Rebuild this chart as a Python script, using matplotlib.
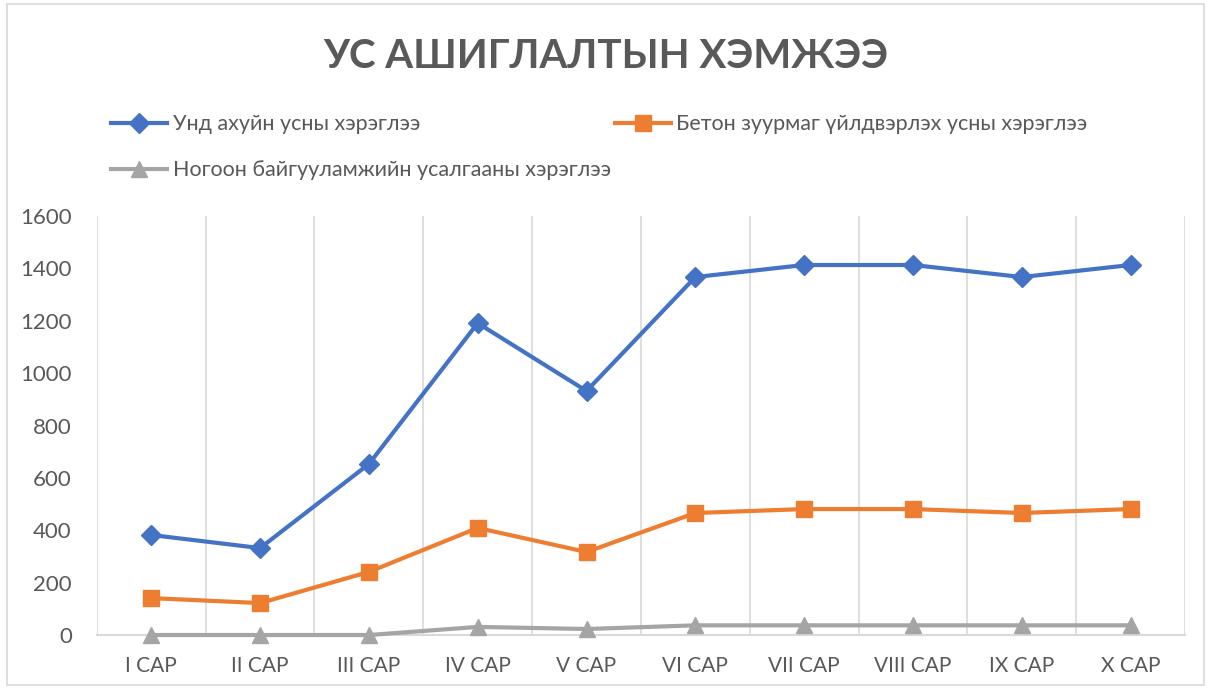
import matplotlib
matplotlib.use("Agg")
import matplotlib.pyplot as plt
from matplotlib.patches import Rectangle

plt.rcParams['font.family'] = ['Lato', 'DejaVu Sans']

months = ['I CAP', 'II CAP', 'III CAP', 'IV CAP', 'V CAP',
          'VI CAP', 'VII CAP', 'VIII CAP', 'IX CAP', 'X CAP']
household = [382, 332, 653, 1191, 932, 1367, 1413, 1413, 1367, 1413]
concrete = [141, 122, 241, 409, 317, 466, 481, 481, 466, 481]
irrigation = [0, 0, 0, 31, 23, 37, 37, 37, 37, 37]

names = ['Унд ахуйн усны хэрэглээ',
         'Бетон зуурмаг үйлдвэрлэх усны хэрэглээ',
         'Ногоон байгууламжийн усалгааны хэрэглээ']

text_color = '#595959'
grid_color = '#d9d9d9'

fig = plt.figure(figsize=(12.11, 6.88), dpi=100)
ax = fig.add_axes([0.080, 0.077, 0.8985, 0.609])

x = range(len(months))
l1, = ax.plot(x, household, color='#4472C4', lw=3, marker='D', ms=10,
              label=names[0], clip_on=False)
l2, = ax.plot(x, concrete, color='#ED7D31', lw=3, marker='s', ms=12,
              label=names[1], clip_on=False)
l3, = ax.plot(x, irrigation, color='#A5A5A5', lw=3, marker='^', ms=12,
              label=names[2], clip_on=False)

ax.set_xlim(-0.5, len(months) - 0.5)
ax.set_ylim(0, 1600)
ax.set_yticks(range(0, 1601, 200))
ax.set_xticks(list(x))
ax.set_xticklabels(months)
for b in [i + 0.5 for i in range(-1, len(months))]:
    ax.axvline(b, color=grid_color, lw=1.2, zorder=0)

for s in ['top', 'right', 'left']:
    ax.spines[s].set_visible(False)
ax.spines['bottom'].set_color(grid_color)
ax.spines['bottom'].set_linewidth(1.5)
ax.spines['bottom'].set_zorder(0)
ax.tick_params(axis='y', length=0, colors=text_color, labelsize=16, pad=18)
ax.tick_params(axis='x', length=0, colors=text_color, labelsize=15, pad=15)

fig.text(0.5, 0.918, 'УС АШИГЛАЛТЫН ХЭМЖЭЭ', ha='center', va='center',
         fontsize=29, fontweight='bold', color=text_color)

fig.legend(handles=[l1, l3, l2], ncol=2, loc='upper left',
           bbox_to_anchor=(0.076, 0.862), frameon=False, fontsize=15.5,
           labelcolor=text_color, handlelength=2.6, columnspacing=0.2,
           labelspacing=1.2, handletextpad=0.25)

fig.patches.append(Rectangle((0.006, 0.004), 0.988, 0.99, transform=fig.transFigure,
                             fill=False, edgecolor='#d9d9d9', lw=1.2))

fig.savefig('out.png', dpi=100, facecolor='white')
